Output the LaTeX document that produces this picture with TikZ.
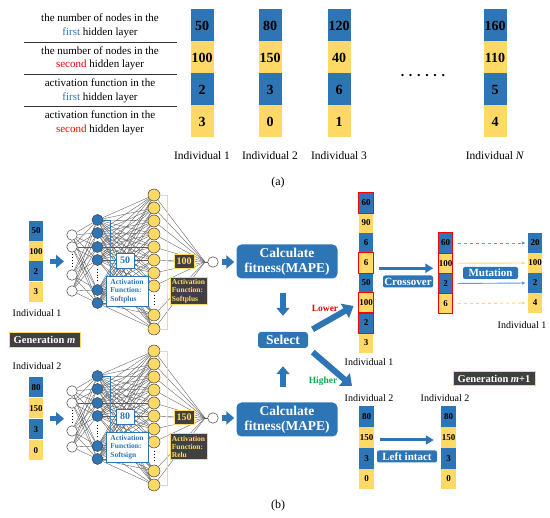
\documentclass[tikz,border=0pt]{standalone}
\usepackage{fontspec}
\setmainfont{Liberation Serif}
\definecolor{cellblue}{RGB}{46,117,182}
\definecolor{cellyellow}{RGB}{255,217,102}
\definecolor{darkbox}{RGB}{64,64,64}
\definecolor{lightblue}{RGB}{91,155,213}
\definecolor{lowred}{RGB}{255,0,0}
\definecolor{highgreen}{RGB}{0,176,80}
\usetikzlibrary{arrows.meta, backgrounds}

\tikzset{
  bigcell/.style={minimum width=23pt, minimum height=32pt, inner sep=0pt,
                  font=\fontsize{14}{14}\selectfont\bfseries},
  smallcell/.style={minimum width=14pt, minimum height=20pt, inner sep=0pt,
                    font=\fontsize{9}{9}\selectfont\bfseries},
  bcell/.style={fill=cellblue},
  ycell/.style={fill=cellyellow},
  redframe/.style={draw=lowred, line width=1pt},
  rowlabel/.style={align=center, font=\fontsize{11}{13.5}\selectfont},
  indlabel/.style={font=\fontsize{10}{10}\selectfont},
  neuron/.style={circle, draw=black!75, line width=0.5pt, inner sep=0pt, minimum size=11pt},
  conn/.style={draw=black!65, line width=0.35pt},
  blockarr/.style={draw=cellblue, line width=5.5pt, -{Triangle[width=13pt,length=8pt]}},
  diagarr/.style={draw=cellblue, line width=6pt, -{Triangle[width=16pt,length=10pt]}},
  midarr/.style={draw=cellblue, line width=3pt, -{Triangle[width=9pt,length=8pt]}},
  mutarr/.style={line width=0.9pt, -{Latex[length=4pt,width=3.5pt]}},
  fitbox/.style={fill=cellblue, rounded corners=5pt, text=white, align=center, inner sep=0pt,
                 minimum width=101pt, minimum height=34pt,
                 font=\fontsize{13.5}{15}\selectfont\bfseries},
  tagbox/.style={fill=cellblue, rounded corners=2pt, text=white, inner sep=0pt,
                 minimum height=12pt, font=\fontsize{11}{11}\selectfont\bfseries},
  genbox/.style={fill=darkbox, draw=cellyellow, line width=1pt, text=white, inner sep=0pt,
                 minimum height=15pt, font=\fontsize{10.5}{10.5}\selectfont\bfseries},
  actbox/.style={align=left, inner sep=1.5pt, line width=0.9pt,
                 font=\fontsize{7.5}{8.3}\selectfont\bfseries},
  numbox/.style={inner sep=0pt, line width=0.9pt, font=\fontsize{10}{10}\selectfont\bfseries}
}

\begin{document}
\begin{tikzpicture}[x=1pt, y=-1pt]
  \useasboundingbox (0,0) rectangle (550,518);

  % (a) meaning of the four genes
  \node[rowlabel] (row1) at (100,26) {the number of nodes in the\\\textcolor{cellblue}{first} hidden layer};
  \node[rowlabel] (row2) at (100,58.5) {the number of nodes in the\\\textcolor{lowred}{second} hidden layer};
  \node[rowlabel] (row3) at (100,91) {activation function in the\\\textcolor{cellblue}{first} hidden layer};
  \node[rowlabel] (row4) at (100,123) {activation function in the\\\textcolor{lowred}{second} hidden layer};
  \foreach \y in {42,74,106}
    \draw[black!80, line width=0.8pt] (24,\y) -- (177,\y);

  \foreach \cx/\id/\tx/\va/\vb/\vc/\vd in {202/1/1/50/100/2/3, 270/2/2/80/150/3/0,
      339/3/3/120/40/6/1, 495/N/{\textit{N}}/160/110/5/4} {
    \node[bigcell,bcell] (a\id-1) at (\cx,25.5) {\va};
    \node[bigcell,ycell] (a\id-2) at (\cx,57.5) {\vb};
    \node[bigcell,bcell] (a\id-3) at (\cx,89.5) {\vc};
    \node[bigcell,ycell] (a\id-4) at (\cx,121.5) {\vd};
    \node[font=\fontsize{11.5}{11.5}\selectfont] (a\id lab) at (\cx,156) {Individual \tx};
  }
  \node[font=\fontsize{14}{14}\selectfont\bfseries] (dots) at (423,76) {. . . . . .};
  \node[font=\fontsize{12}{12}\selectfont] (capa) at (278,183) {(a)};

  % (b) individuals of generation m
  \foreach \i/\v/\c in {1/50/bcell, 2/100/ycell, 3/2/bcell, 4/3/ycell}
    \node[smallcell,\c] (p1-\i) at (36,210.75+20.25*\i) {\v};
  \foreach \i/\v/\c in {1/80/bcell, 2/150/ycell, 3/3/bcell, 4/0/ycell}
    \node[smallcell,\c] (p2-\i) at (36,366.5+21*\i) {\v};
  \node[indlabel] (p1lab) at (37,313) {Individual 1};
  \node[indlabel] (p2lab) at (37,366) {Individual 2};
  \node[genbox, minimum width=71pt] (genm) at (44.5,340) {Generation \textit{m}};

  % the two networks
  \foreach \n/\dy/\va/\vb/\fa/\fb in {1/0/50/100/Softplus/Softplus, 2/156/80/150/Softsign/Relu} {
    \foreach \k/\y in {1/235, 2/247, 3/275, 4/291}
      \node[neuron, fill=white, minimum size=10.5pt] (in\n-\k) at (72,\y+\dy) {};
    \foreach \k/\y in {1/220, 2/233, 3/247, 4/260, 5/290, 6/303}
      \node[neuron, fill=cellblue] (hb\n-\k) at (97.5,\y+\dy) {};
    \foreach \k/\y in {1/195, 2/208, 3/221, 4/234, 5/247, 6/260, 7/273, 8/286, 9/315, 10/329}
      \node[neuron, fill=cellyellow, minimum size=12pt] (hy\n-\k) at (154,\y+\dy) {};
    \node[neuron, fill=white, minimum size=10.5pt] (out\n) at (213,262+\dy) {};
    \coordinate (cv\n) at (205,262+\dy);
    \draw[dotted, line width=0.9pt, shorten <=2pt, shorten >=2pt] (in\n-2.south) -- (in\n-3.north);
    \draw[dotted, line width=0.9pt, shorten <=3pt, shorten >=3pt] (hb\n-4.south) -- (hb\n-5.north);
    \draw[dotted, line width=0.9pt, shorten <=3pt, shorten >=3pt] (hy\n-8.south) -- (hy\n-9.north);
    \begin{scope}[on background layer]
      \foreach \a in {1,...,4} \foreach \b in {1,...,6} \draw[conn] (in\n-\a) -- (hb\n-\b);
      \foreach \a in {1,...,6} \foreach \b in {1,...,10} \draw[conn] (hb\n-\a) -- (hy\n-\b);
      \foreach \a in {1,...,10} \draw[conn] (hy\n-\a) -- (cv\n);
      \draw[conn] (cv\n) -- (out\n);
    \end{scope}
    % layer sizes and activation functions
    \coordinate (bb\n) at (110,260.5+\dy);
    \draw[cellblue, line width=0.9pt] (hb\n-1.east) -| (bb\n) |- (hb\n-6.east);
    \node[numbox, draw=cellblue, fill=white, text=cellblue, minimum width=18pt, minimum height=15pt]
      (nb\n) at (125,260.5+\dy) {\va};
    \draw[cellblue, line width=0.9pt] (bb\n) -- (nb\n);
    \node[actbox, draw=cellblue, fill=white, text=cellblue, minimum width=42pt, minimum height=30pt]
      (ab\n) at (127,291+\dy) {Activation\\Function:\\\fa};
    \coordinate (yb\n) at (167,261.5+\dy);
    \draw[cellyellow, line width=0.9pt] (hy\n-1.east) -| (yb\n) |- (hy\n-10.east);
    \node[numbox, draw=cellyellow, fill=darkbox, text=cellyellow, minimum width=20pt, minimum height=14pt]
      (ny\n) at (184,261.5+\dy) {\vb};
    \draw[cellyellow, line width=0.9pt] (yb\n) -- (ny\n);
    \node[actbox, draw=cellyellow, fill=darkbox, text=cellyellow, minimum width=37pt, minimum height=26pt, anchor=north]
      (ay\n) at (188.5,277.5+\dy) {Activation\\Function:\\\fb};
    \draw[blockarr, shorten <=7pt, shorten >=2.5pt] (p\n-2.south east) -- (p\n-2.south east -| in\n-2.west);
  }

  % fitness and selection
  \node[fitbox] (fit1) at (287,261.5) {Calculate\\fitness(MAPE)};
  \node[fitbox] (fit2) at (287,419.5) {Calculate\\fitness(MAPE)};
  \draw[blockarr, shorten <=3.5pt, shorten >=2pt] (out1.east) -- (out1.east -| fit1.west);
  \draw[blockarr, shorten <=3.5pt, shorten >=2pt] (out2.east) -- (out2.east -| fit2.west);
  \node[fitbox, rounded corners=3pt, minimum width=50pt, minimum height=16pt] (sel) at (283,340) {Select};
  \draw[blockarr, line width=6pt, shorten <=14.5pt, shorten >=16pt] (sel.north |- fit1.south) -- (sel.north);
  \draw[blockarr, line width=6pt, shorten <=15pt, shorten >=18pt] (sel.south |- fit2.north) -- (sel.south);

  % selected individuals
  \foreach \i/\v/\c in {1/60/bcell, 2/90/ycell, 3/6/bcell, 4/6/ycell, 5/50/bcell, 6/100/ycell, 7/2/bcell, 8/3/ycell}
    \node[smallcell,\c] (s1-\i) at (366,183+20*\i) {\v};
  \foreach \i in {1,4,6,7}
    \draw[redframe] (s1-\i.north west) rectangle (s1-\i.south east);
  \node[indlabel] (s1lab) at (369,362) {Individual 1};
  \draw[diagarr, shorten <=5pt, shorten >=6pt] (sel.north east) -- (s1-6.west);
  \node[font=\fontsize{9.5}{9.5}\selectfont\bfseries, text=lowred] (lowlab) at (325,308) {Lower};
  \coordinate (hitip) at (352,386);
  \draw[diagarr, shorten <=6pt] (sel.south east) -- (hitip);
  \node[font=\fontsize{9.5}{9.5}\selectfont\bfseries, text=highgreen] (highlab) at (323,381) {Higher};

  % crossover and mutation
  \foreach \i/\v/\c in {1/60/bcell, 2/100/ycell, 3/2/bcell, 4/6/ycell} {
    \node[smallcell,\c] (x\i) at (445.5,222.75+20.25*\i) {\v};
    \draw[redframe] (x\i.north west) rectangle (x\i.south east);
  }
  \coordinate (crin) at ([yshift=-5pt]x2.west);
  \draw[midarr, shorten <=6pt, shorten >=5pt] (crin -| s1-4.east) -- (crin);
  \node[tagbox, minimum width=50pt] (crlab) at (408,281.5) {Crossover};
  \foreach \i/\v/\c in {1/20/bcell, 2/100/ycell, 3/2/bcell, 4/4/ycell}
    \node[smallcell,\c] (m\i) at (535,223+20*\i) {\v};
  \foreach \i/\col/\pat in {1/lightblue/dashed, 2/cellyellow/solid, 3/lightblue/solid, 4/cellyellow/dashed}
    \draw[mutarr, draw=\col, \pat, shorten <=5.5pt, shorten >=2pt] (x\i.east) -- (m\i.west);
  \node[tagbox, minimum width=55pt] (mutlab) at (490.5,273) {Mutation};
  \node[indlabel] (m1lab) at (522,325) {Individual 1};

  % individual 2 kept for generation m+1
  \node[genbox, minimum width=82pt, minimum height=14pt] (genm1) at (494,379) {Generation \textit{m}+1};
  \foreach \i/\v/\c in {1/80/bcell, 2/150/ycell, 3/3/bcell, 4/0/ycell} {
    \node[smallcell,\c, minimum width=15pt, minimum height=20.75pt] (s2-\i) at (366.5,396+20.75*\i) {\v};
    \node[smallcell,\c, minimum width=15pt, minimum height=20.75pt] (r2-\i) at (448.5,396+20.75*\i) {\v};
  }
  \node[indlabel] (s2lab) at (369,398) {Individual 2};
  \node[indlabel] (r2lab) at (445,398) {Individual 2};
  \coordinate (liin) at ([yshift=-2.5pt]r2-2.west);
  \draw[midarr, shorten <=6pt, shorten >=7pt] (liin -| s2-2.east) -- (liin);
  \node[tagbox, minimum width=60pt] (lilab) at (407,456.5) {Left intact};
  \node[font=\fontsize{12}{12}\selectfont] (capb) at (278,506) {(b)};
\end{tikzpicture}
\end{document}
